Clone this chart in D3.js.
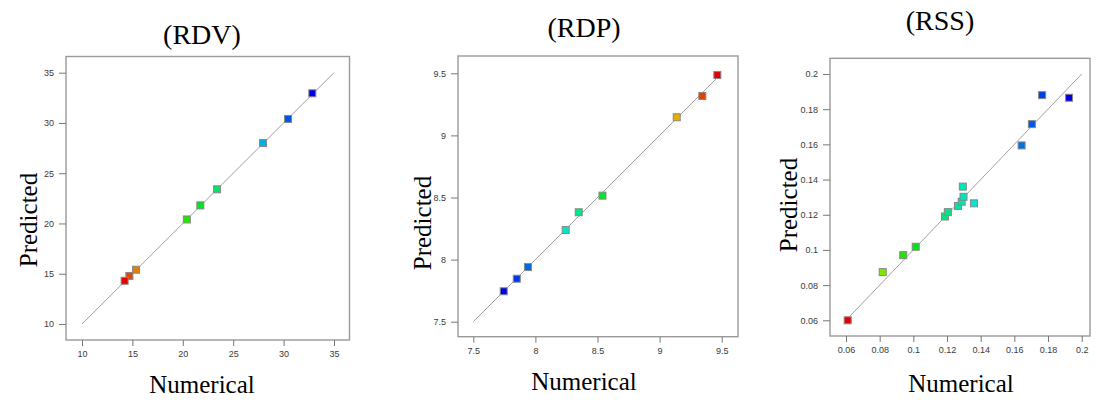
<!DOCTYPE html>
<html>
<head>
<meta charset="utf-8">
<script src="https://cdn.jsdelivr.net/npm/d3@7"></script>
<style>
  body { margin: 0; background: #fff; }
  svg { display: block; }
  .tick text { font-family: Arial, "Liberation Sans", sans-serif; font-size: 9px; fill: #3a3a3a; }
  .serif { font-family: "Liberation Serif", "Times New Roman", serif; fill: #000; }
</style>
</head>
<body>
<div id="chart"></div>
<script>
// panel titles and axis ticks
const titles = ['(RDV)', '(RDP)', '(RSS)'];
const rdvTicks = [10, 15, 20, 25, 30, 35];
const rdpTicks = [7.5, 8, 8.5, 9, 9.5];
const rssTicks = [0.06, 0.08, 0.1, 0.12, 0.14, 0.16, 0.18, 0.2];

// numerical (actual) vs predicted values
const rdvActual    = [32.85, 30.44, 27.96, 23.4, 21.74, 20.4, 15.36, 14.7, 14.23];
const rdvPredicted = [32.95, 30.4, 28.0, 23.4, 21.8, 20.4, 15.4, 14.78, 14.3];

const rdpActual    = [7.745, 7.85, 7.94, 8.244, 8.349, 8.54, 9.138, 9.344, 9.465];
const rdpPredicted = [7.745, 7.846, 7.94, 8.238, 8.381, 8.515, 9.146, 9.317, 9.486];

const rssActual    = [0.061, 0.0818, 0.094, 0.1014, 0.1188, 0.1205, 0.1265, 0.1287, 0.1298, 0.1294, 0.136, 0.1643, 0.1704, 0.1765, 0.1925];
const rssPredicted = [0.060, 0.0874, 0.097, 0.1018, 0.119, 0.1215, 0.125, 0.1274, 0.1302, 0.136, 0.1265, 0.1594, 0.1715, 0.188, 0.1865];

const W = 1097, H = 403;

const panels = [
  { title: titles[0], ticks: rdvTicks, xs: rdvActual, ys: rdvPredicted,
    frame: [66, 56.5, 349.5, 340], xr: [82, 334], yr: [324, 72.7],
    titlePos: [202, 44], xLab: [202, 393], yLab: [37, 220],
    blueHigh: true, gamma: 0.7, lineToData: false },
  { title: titles[1], ticks: rdpTicks, xs: rdpActual, ys: rdpPredicted,
    frame: [458, 56, 738, 336.7], xr: [473.3, 721.7], yr: [321.7, 73.3],
    titlePos: [584, 37], xLab: [584, 390], yLab: [431, 223],
    blueHigh: false, gamma: 1, lineToData: true },
  { title: titles[2], ticks: rssTicks, xs: rssActual, ys: rssPredicted,
    frame: [830, 58.3, 1090, 336], xr: [846, 1081.7], yr: [320.3, 74],
    titlePos: [940, 30], xLab: [961, 391.5], yLab: [797, 205],
    blueHigh: true, gamma: 0.55, lineToData: false }
];

const svg = d3.select('#chart').append('svg')
  .attr('width', W)
  .attr('height', H);

const fmt = d => String(+d.toFixed(2));

panels.forEach(p => {
  const lo = d3.min(p.ticks), hi = d3.max(p.ticks);
  const x = d3.scaleLinear().domain([lo, hi]).range(p.xr);
  const y = d3.scaleLinear().domain([lo, hi]).range(p.yr);
  const [fl, ft, fr, fb] = p.frame;

  const g = svg.append('g');

  // frame
  g.append('rect')
    .attr('x', fl).attr('y', ft)
    .attr('width', fr - fl).attr('height', fb - ft)
    .attr('fill', 'none')
    .attr('stroke', '#9a9a9a')
    .attr('stroke-width', 1.4);

  // axes
  const xAxis = d3.axisBottom(x).tickValues(p.ticks).tickFormat(fmt).tickSize(6).tickPadding(5);
  const yAxis = d3.axisLeft(y).tickValues(p.ticks).tickFormat(fmt).tickSize(7).tickPadding(5);

  const gx = g.append('g').attr('transform', `translate(0,${fb})`).call(xAxis);
  const gy = g.append('g').attr('transform', `translate(${fl},0)`).call(yAxis);
  [gx, gy].forEach(a => {
    a.select('.domain').remove();
    a.selectAll('.tick line').attr('stroke', '#777');
  });

  // 1:1 line
  const end = p.lineToData ? d3.max(p.xs.concat(p.ys)) : hi;
  g.append('line')
    .attr('x1', x(lo)).attr('y1', y(lo))
    .attr('x2', x(end)).attr('y2', y(end))
    .attr('stroke', '#a0a0a0')
    .attr('stroke-width', 1);

  // colour by actual value, red .. blue
  const [vmin, vmax] = d3.extent(p.xs);
  const colour = v => {
    let t = (v - vmin) / (vmax - vmin);
    if (!p.blueHigh) t = 1 - t;
    const h = 240 * Math.pow(t, p.gamma);
    return d3.hsl(h, 1, 0.45).formatHex();
  };

  const s = 7;
  g.selectAll('rect.pt')
    .data(p.xs.map((v, i) => [v, p.ys[i]]))
    .enter()
    .append('rect')
    .attr('class', 'pt')
    .attr('x', d => x(d[0]) - s / 2)
    .attr('y', d => y(d[1]) - s / 2)
    .attr('width', s)
    .attr('height', s)
    .attr('fill', d => colour(d[0]))
    .attr('stroke', '#888')
    .attr('stroke-width', 1);

  // texts
  g.append('text').attr('class', 'serif')
    .attr('x', p.titlePos[0]).attr('y', p.titlePos[1])
    .attr('text-anchor', 'middle')
    .attr('font-size', 28)
    .text(p.title);

  g.append('text').attr('class', 'serif')
    .attr('x', p.xLab[0]).attr('y', p.xLab[1])
    .attr('text-anchor', 'middle')
    .attr('font-size', 25)
    .text('Numerical');

  g.append('text').attr('class', 'serif')
    .attr('transform', `translate(${p.yLab[0]},${p.yLab[1]}) rotate(-90)`)
    .attr('text-anchor', 'middle')
    .attr('font-size', 25)
    .text('Predicted');
});
</script>
</body>
</html>
